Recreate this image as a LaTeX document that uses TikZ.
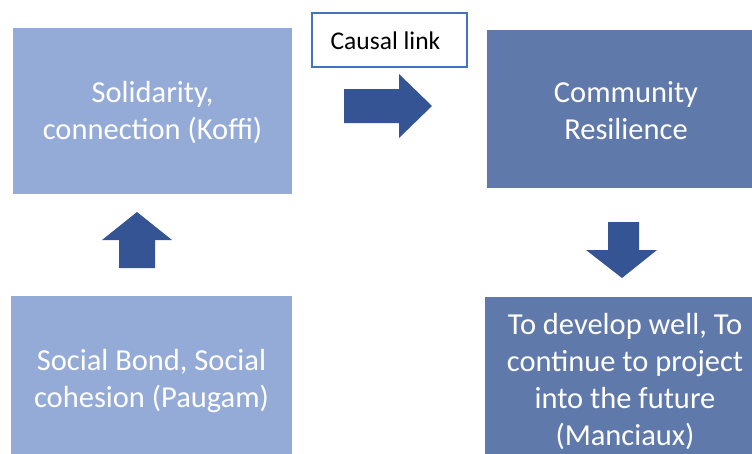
\documentclass[tikz,border=0pt]{standalone}
\usepackage{fontspec}
\setmainfont{Carlito}
\definecolor{lightbox}{HTML}{94AAD7}
\definecolor{darkbox}{HTML}{6079AB}
\definecolor{arrowblue}{HTML}{345493}
\definecolor{linkborder}{HTML}{4472C4}
\tikzset{
  boxtext/.style={text=white, align=center, font=\fontsize{30.5}{37}\selectfont, inner sep=0pt},
  lightfill/.style={fill=lightbox, draw=none},
  darkfill/.style={fill=darkbox, draw=none},
  blockarrow/.style={fill=arrowblue, draw=none},
}
\begin{document}
\begin{tikzpicture}[x=1pt,y=-1pt]
\clip (0,0) rectangle (752,453);
\fill[white] (0,0) rectangle (752,453);
% boxes
\fill[lightfill] (13,28) rectangle (292,194);
\fill[lightfill] (11,296) rectangle (292,466);
\fill[darkfill] (487,30) rectangle (760,188);
\fill[darkfill] (485,297) rectangle (760,466);
% texts
\node[boxtext] (sol) at (152.5,113) {Solidarity,\\connection (Koffi)};
\node[boxtext] (soc) at (151.5,381) {Social Bond, Social\\cohesion (Paugam)};
\node[boxtext] (com) at (626,111) {Community\\Resilience};
\node[boxtext] (dev) at (625,381.5) {To develop well, To\\continue to project\\into the future\\(Manciaux)};
% causal link
\node[draw=linkborder, line width=1.5pt, fill=white, minimum width=155pt, minimum height=54pt, inner sep=0pt] (causal) at (389.5,40) {};
\node[font=\fontsize{25.5}{30}\selectfont, inner sep=0pt] (causaltext) at (385.5,41) {Causal link};
% arrows
\fill[blockarrow] (344,89) -- (399,89) -- (399,74) -- (432,106) -- (399,138) -- (399,123) -- (344,123) -- cycle;
\fill[blockarrow] (119,268) -- (119,240) -- (102,240) -- (137,212) -- (172,240) -- (155,240) -- (155,268) -- cycle;
\fill[blockarrow] (608,222) -- (639,222) -- (639,250) -- (657,250) -- (622,278) -- (586,250) -- (608,250) -- cycle;
\end{tikzpicture}
\end{document}
